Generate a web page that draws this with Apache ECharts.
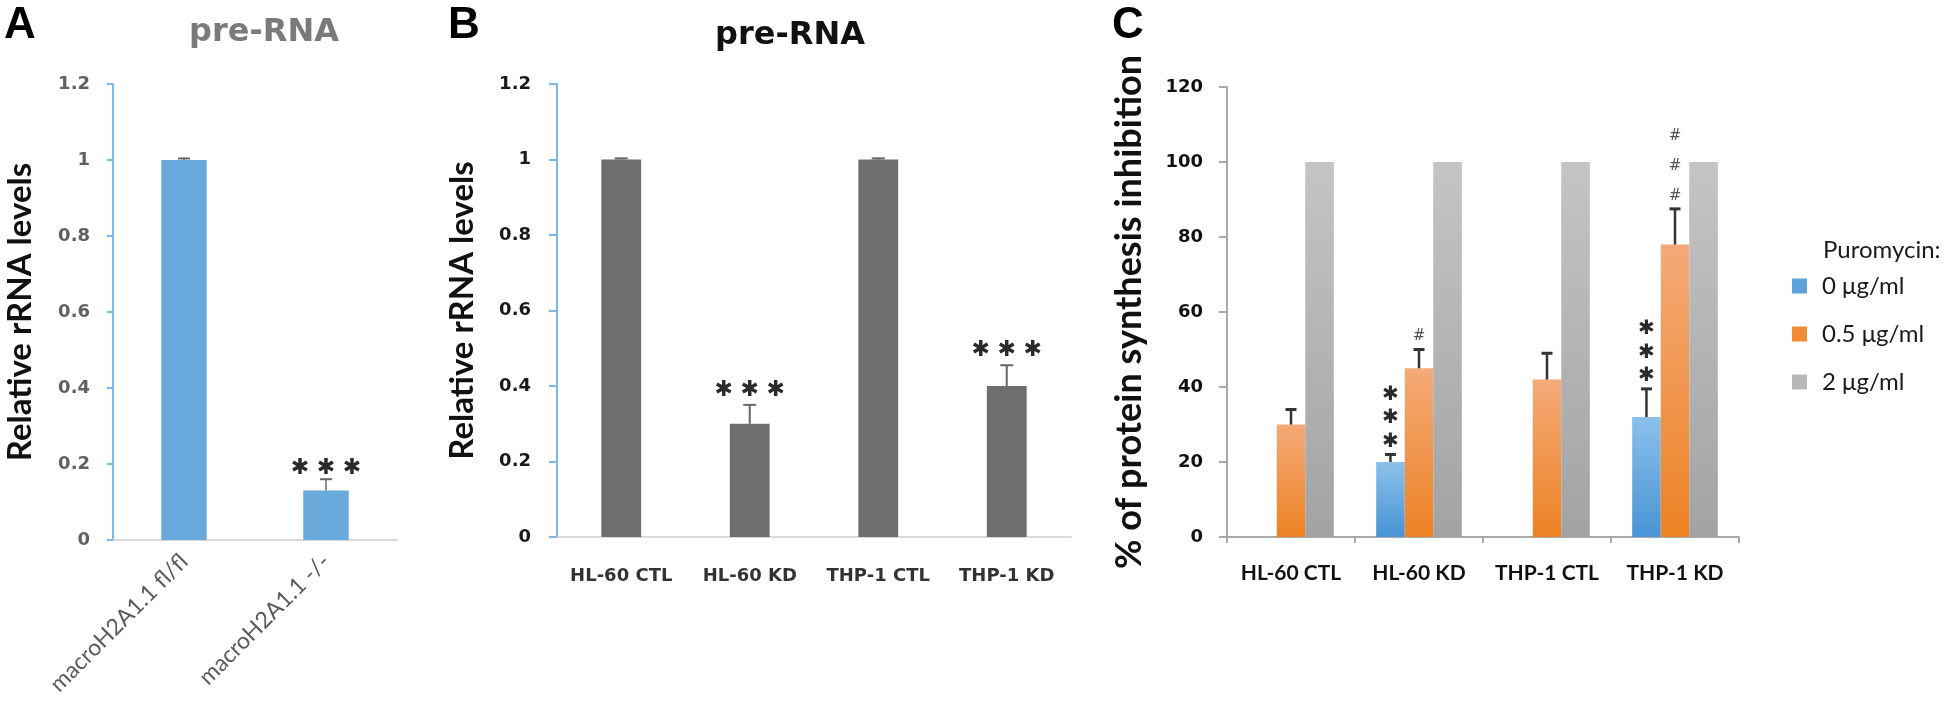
<!DOCTYPE html>
<html><head><meta charset="utf-8">
<script src="https://cdn.jsdelivr.net/npm/echarts@6/dist/echarts.min.js"></script>
<style>html,body{margin:0;padding:0;background:#fff}#c{width:1946px;height:713px}</style>
</head><body><div id="c"></div>
<script>
// ---------- Panel A ----------
const catsA = ['macroH2A1.1 fl/fl', 'macroH2A1.1 -/-'];
const valsA = [1.0, 0.13];
const errA = [0.004, 0.03];
const sigA = ['', '***'];
const ticksA = [0, 0.2, 0.4, 0.6, 0.8, 1, 1.2];

// ---------- Panel B ----------
const catsB = ['HL-60 CTL', 'HL-60 KD', 'THP-1 CTL', 'THP-1 KD'];
const valsB = [1.0, 0.30, 1.0, 0.40];
const errB = [0.003, 0.05, 0.003, 0.055];
const sigB = ['', '***', '', '***'];
const ticksB = [0, 0.2, 0.4, 0.6, 0.8, 1, 1.2];

// ---------- Panel C ----------
const catsC = ['HL-60 CTL', 'HL-60 KD', 'THP-1 CTL', 'THP-1 KD'];
const namesC = ['0 μg/ml', '0.5 μg/ml', '2 μg/ml'];
const valsC0 = [0, 20, 0, 32];
const errC0 = [0, 2, 0, 7.5];
const sigC0 = ['', '***', '', '***'];
const valsC1 = [30, 45, 42, 78];
const errC1 = [4, 5, 7, 9.5];
const sigC1 = ['', '#', '', '###'];
const valsC2 = [100, 100, 100, 100];
const errC2 = [0, 0, 0, 0];
const sigC2 = ['', '', '', ''];
const ticksC = [0, 20, 40, 60, 80, 100, 120];

const chart = echarts.init(document.getElementById('c'));
const G = echarts.graphic;
const STAR = '\u2731';

function errSeries(xi, vals, errs, sigs, cfg) {
  return {
    type: 'custom', xAxisIndex: xi, yAxisIndex: xi, z: 5, clip: false, silent: true,
    encode: {x: 0, y: 1},
    data: vals.map((v, i) => [i, v, errs[i]]),
    renderItem: function (params, api) {
      const ci = api.value(0), v = api.value(1), e = api.value(2);
      const base = api.coord([ci, v]);
      const band = api.size([1, 0])[0];
      const x = base[0] + cfg.offset * band;
      const ch = [];
      let topY = base[1];
      if (e > 0) {
        const y2 = api.coord([ci, v + e])[1];
        ch.push({type: 'line', shape: {x1: x, y1: base[1], x2: x, y2: y2}, style: {stroke: cfg.color, lineWidth: cfg.lw}});
        ch.push({type: 'line', shape: {x1: x - cfg.cap / 2, y1: y2, x2: x + cfg.cap / 2, y2: y2}, style: {stroke: cfg.color, lineWidth: cfg.capLw}});
        topY = y2;
      }
      const s = sigs[params.dataIndex];
      if (s) {
        const n = s.length;
        for (let k = 0; k < n; k++) {
          let tx, ty;
          if (cfg.mode === 'h') {
            tx = x + (k - (n - 1) / 2) * cfg.spacing;
            ty = topY - cfg.gap;
          } else {
            tx = x;
            ty = topY - cfg.gap - k * cfg.spacing;
          }
          const ch0 = s[k] === '*' ? STAR : s[k];
          ch.push({type: 'text', style: {text: ch0, x: tx, y: ty + cfg.dy, align: 'center', verticalAlign: 'middle',
            textAlign: 'center', textVerticalAlign: 'middle', font: cfg.font, fill: cfg.fill}});
        }
      }
      return {type: 'group', children: ch};
    }
  };
}

const blueAxis = '#7fb6e6';
const tickFont = {fontFamily: 'DejaVu Sans', fontWeight: 'bold', fontSize: 18};

function grad(top, bottom) {
  return new G.LinearGradient(0, 0, 0, 1, [{offset: 0, color: top}, {offset: 1, color: bottom}]);
}

const option = {
  animation: false,
  backgroundColor: '#fff',
  grid: [
    {left: 113, top: 84, width: 284, height: 456},
    {left: 557, top: 84, width: 514, height: 453},
    {left: 1227, top: 87, width: 512, height: 450}
  ],
  graphic: [
    {type: 'text', style: {text: 'A', x: 20, y: 26, align: 'center', verticalAlign: 'middle', textAlign: 'center', textVerticalAlign: 'middle', font: 'bold 44px "Liberation Sans"', fill: '#000'}},
    {type: 'text', style: {text: 'B', x: 464, y: 26, align: 'center', verticalAlign: 'middle', textAlign: 'center', textVerticalAlign: 'middle', font: 'bold 44px "Liberation Sans"', fill: '#000'}},
    {type: 'text', style: {text: 'C', x: 1128, y: 26, align: 'center', verticalAlign: 'middle', textAlign: 'center', textVerticalAlign: 'middle', font: 'bold 44px "Liberation Sans"', fill: '#000'}},
    {type: 'text', style: {text: 'pre-RNA', x: 264, y: 33, align: 'center', verticalAlign: 'middle', textAlign: 'center', textVerticalAlign: 'middle', font: 'bold 32px "DejaVu Sans"', fill: '#7a7a7a'}},
    {type: 'text', style: {text: 'pre-RNA', x: 790, y: 36, align: 'center', verticalAlign: 'middle', textAlign: 'center', textVerticalAlign: 'middle', font: 'bold 32px "DejaVu Sans"', fill: '#111'}},
    {type: 'text', style: {text: 'Puromycin:', x: 1823, y: 250, align: 'left', verticalAlign: 'middle', textAlign: 'left', textVerticalAlign: 'middle', font: '24px Lato', fill: '#1a1a1a'}}
  ],
  legend: {
    orient: 'vertical', left: 1787, top: 268, itemWidth: 15, itemHeight: 15, itemGap: 22, icon: 'rect',
    textStyle: {fontFamily: 'Lato', fontSize: 24, color: '#1a1a1a', lineHeight: 26, padding: [0, 0, 0, 10]},
    data: [
      {name: namesC[0], itemStyle: {color: '#5fa3dc'}},
      {name: namesC[1], itemStyle: {color: '#f08b36'}},
      {name: namesC[2], itemStyle: {color: '#b8b8b8'}}
    ]
  },
  xAxis: [
    {gridIndex: 0, type: 'category', data: catsA,
      axisLine: {lineStyle: {color: '#d9d9d9', width: 2}}, axisTick: {show: false},
      axisLabel: {rotate: 45, margin: 18, interval: 0, fontFamily: 'Lato', fontSize: 23, color: '#5a5a5a'}},
    {gridIndex: 1, type: 'category', data: catsB,
      axisLine: {lineStyle: {color: '#d9d9d9', width: 2}}, axisTick: {show: false},
      axisLabel: Object.assign({margin: 30, interval: 0, color: '#333'}, tickFont)},
    {gridIndex: 2, type: 'category', data: catsC,
      axisLine: {lineStyle: {color: '#a9a9a9', width: 2}},
      axisTick: {show: true, length: 6, lineStyle: {color: '#a9a9a9', width: 2}},
      axisLabel: {margin: 26, interval: 0, fontFamily: 'Lato', fontWeight: 'bold', fontSize: 21, color: '#111'}}
  ],
  yAxis: [
    {gridIndex: 0, type: 'value', min: ticksA[0], max: ticksA[ticksA.length - 1], interval: ticksA[1] - ticksA[0],
      splitLine: {show: false},
      axisLine: {show: true, lineStyle: {color: blueAxis, width: 2}},
      axisTick: {show: true, length: 6, lineStyle: {color: blueAxis, width: 2}},
      axisLabel: Object.assign({margin: 23, color: '#606060'}, tickFont),
      name: 'Relative rRNA levels', nameLocation: 'middle', nameRotate: 90, nameGap: 76,
      nameTextStyle: {fontFamily: 'Lato', fontWeight: 'bold', fontSize: 33, color: '#111'}},
    {gridIndex: 1, type: 'value', min: ticksB[0], max: ticksB[ticksB.length - 1], interval: ticksB[1] - ticksB[0],
      splitLine: {show: false},
      axisLine: {show: true, lineStyle: {color: blueAxis, width: 2}},
      axisTick: {show: true, length: 8, lineStyle: {color: blueAxis, width: 2}},
      axisLabel: Object.assign({margin: 26, color: '#1a1a1a'}, tickFont),
      name: 'Relative rRNA levels', nameLocation: 'middle', nameRotate: 90, nameGap: 78,
      nameTextStyle: {fontFamily: 'Lato', fontWeight: 'bold', fontSize: 33, color: '#111'}},
    {gridIndex: 2, type: 'value', min: ticksC[0], max: ticksC[ticksC.length - 1], interval: ticksC[1] - ticksC[0],
      splitLine: {show: false},
      axisLine: {show: true, lineStyle: {color: '#a9a9a9', width: 2}},
      axisTick: {show: true, length: 8, lineStyle: {color: '#a9a9a9', width: 2}},
      axisLabel: Object.assign({margin: 24, color: '#111'}, tickFont),
      name: '% of protein synthesis inhibition', nameLocation: 'middle', nameRotate: 90, nameGap: 80,
      nameTextStyle: {fontFamily: 'Lato', fontWeight: 'bold', fontSize: 36, color: '#111'}}
  ],
  series: [
    {type: 'bar', xAxisIndex: 0, yAxisIndex: 0, data: valsA, barWidth: '32%', itemStyle: {color: '#69a9dc'}},
    errSeries(0, valsA, errA, sigA, {offset: 0, color: '#666', lw: 1.5, cap: 12, capLw: 2, mode: 'h', spacing: 26, gap: 13, dy: 2, font: '22px "DejaVu Sans"', fill: '#2a2a2a'}),

    {type: 'bar', xAxisIndex: 1, yAxisIndex: 1, data: valsB, barWidth: '31%', itemStyle: {color: '#6e6e6e'}},
    errSeries(1, valsB, errB, sigB, {offset: 0, color: '#666', lw: 2, cap: 13, capLw: 2, mode: 'h', spacing: 26, gap: 17, dy: 2, font: '22px "DejaVu Sans"', fill: '#2a2a2a'}),

    {type: 'bar', name: namesC[0], xAxisIndex: 2, yAxisIndex: 2, data: valsC0, barWidth: '22.3%', barGap: '0%',
      itemStyle: {color: grad('#8cc0ea', '#4894d5')}},
    {type: 'bar', name: namesC[1], xAxisIndex: 2, yAxisIndex: 2, data: valsC1, barWidth: '22.3%', barGap: '0%',
      itemStyle: {color: grad('#f4aa78', '#ed8224')}},
    {type: 'bar', name: namesC[2], xAxisIndex: 2, yAxisIndex: 2, data: valsC2, barWidth: '22.3%', barGap: '0%',
      itemStyle: {color: grad('#c4c4c4', '#a3a3a3')}},
    errSeries(2, valsC0, errC0, sigC0, {offset: -0.223, color: '#333', lw: 2.5, cap: 11, capLw: 3, mode: 'v', spacing: 23.5, gap: 15, dy: 2, font: '20px "DejaVu Sans"', fill: '#2a2a2a'}),
    errSeries(2, valsC1, errC1, sigC1, {offset: 0, color: '#333', lw: 2.5, cap: 11, capLw: 3, mode: 'v', spacing: 30, gap: 14, dy: 1, font: '15px "DejaVu Sans"', fill: '#555'}),
    errSeries(2, valsC2, errC2, sigC2, {offset: 0.223, color: '#333', lw: 2.5, cap: 11, capLw: 3, mode: 'v', spacing: 30, gap: 14, dy: 0, font: '15px "DejaVu Sans"', fill: '#555'})
  ]
};
chart.setOption(option);
</script>
</body></html>
